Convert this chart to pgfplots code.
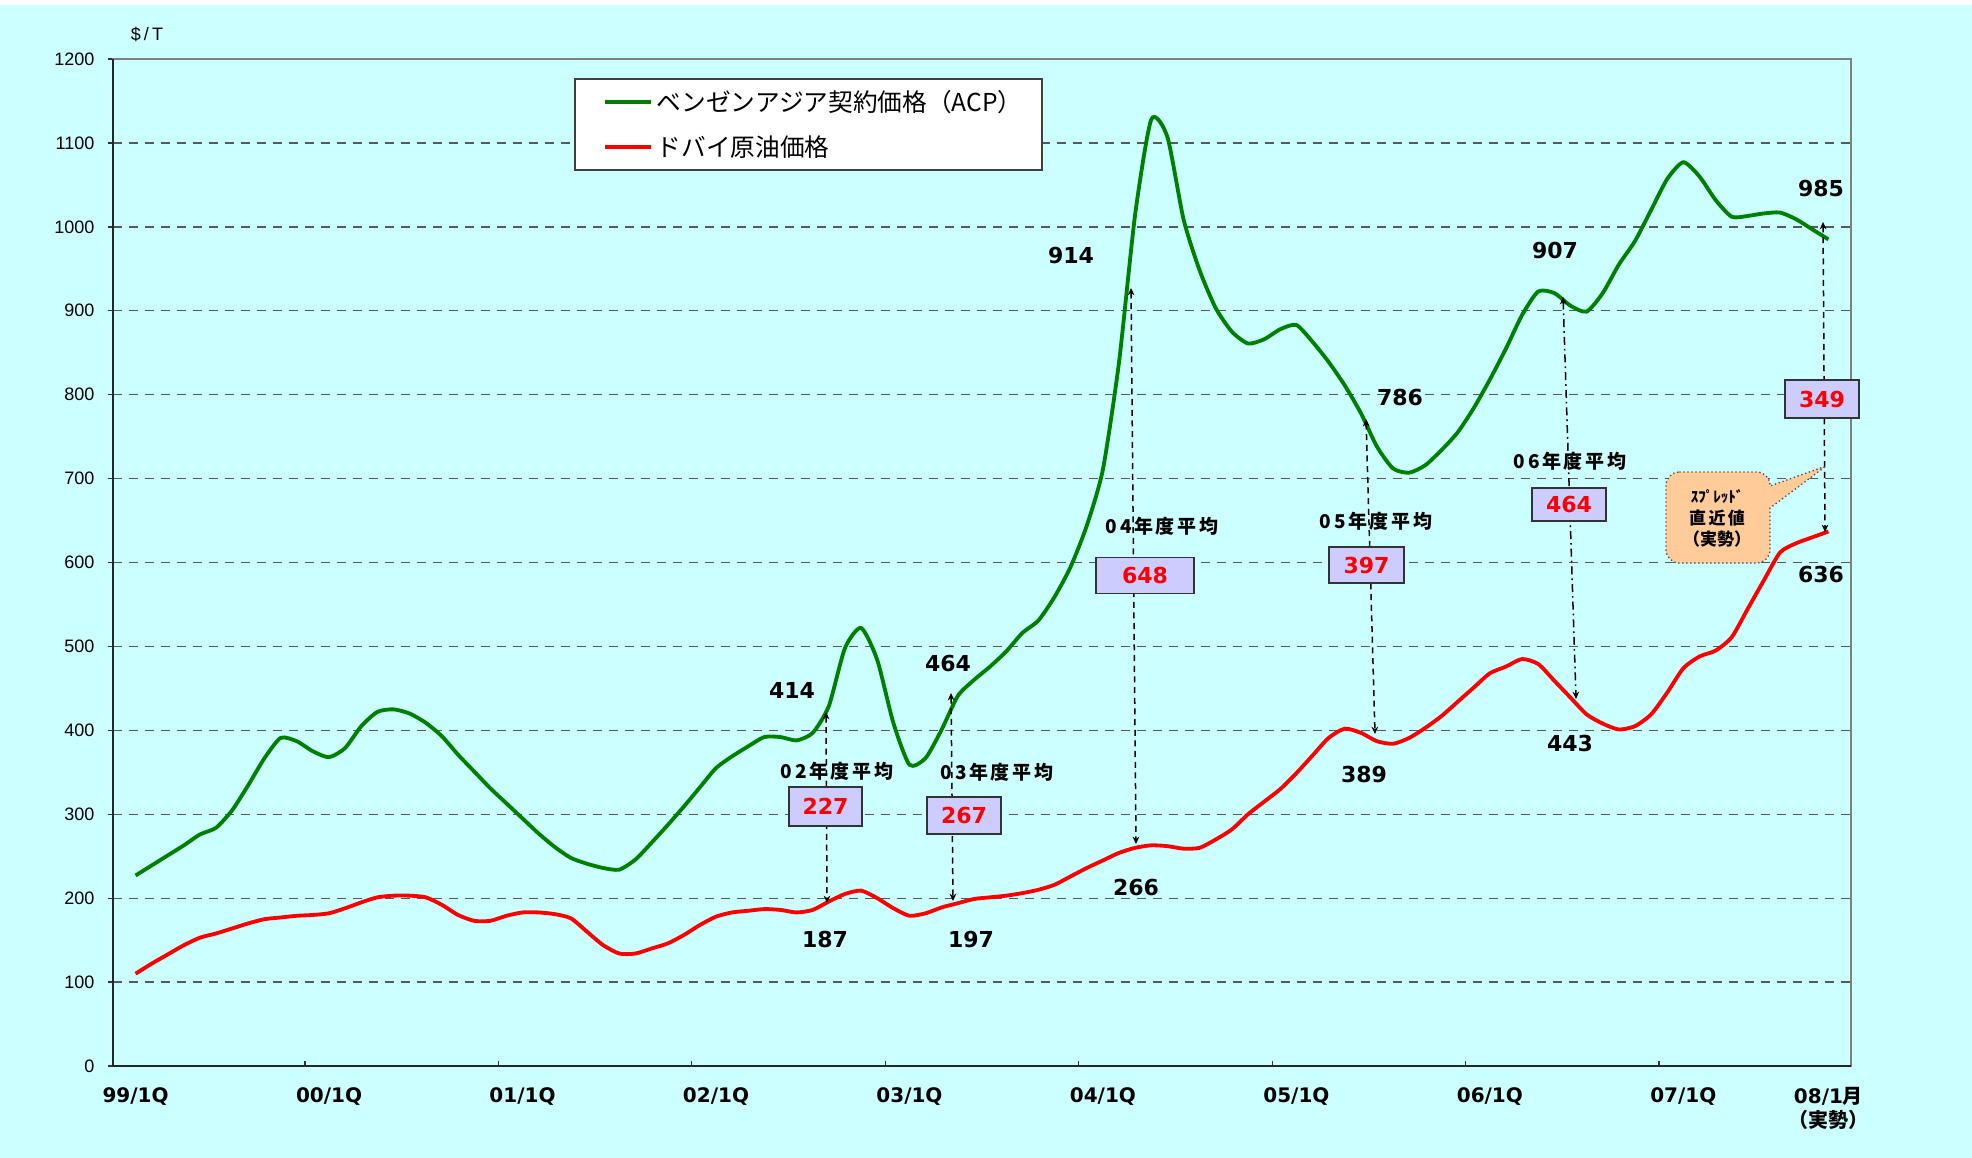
\documentclass[border=0pt]{standalone}
\usepackage{pgfplots}
\pgfplotsset{compat=1.18}
\usepackage{pgfplotstable}
\usetikzlibrary{arrows.meta}
\usepackage{fontspec}
\setmainfont{Liberation Sans}
\newfontfamily\dvb{DejaVu Sans}
\newfontfamily\cjk{Noto Sans CJK JP}
\newfontfamily\cjksp{Noto Sans CJK JP}[LetterSpace=14]
\definecolor{bg}{HTML}{CCFFFF}
\definecolor{boxfill}{HTML}{CCCCFF}
\definecolor{callout}{HTML}{FFCC99}
\definecolor{acp}{HTML}{008000}
\definecolor{dub}{HTML}{FF0000}
\newcommand{\numfont}{\fontsize{6.6}{7}\selectfont\dvb\bfseries}
\newcommand{\avgfont}{\fontsize{5.7}{6}\selectfont\cjksp\bfseries}

\pgfplotstableread{
m acp dubai
0 227 110
1 239 122
2 251 133
3 263 144
4 276 153
5 284 158
6 305 164
7 335 170
8 367 175
9 391 177
10 387 179
11 375 180
12 368 182
13 379 188
14 405 195
15 422 201
16 425 203
17 420 203
18 409 201
19 393 192
20 371 180
21 351 173
22 331 173
23 313 179
24 295 183
25 277 183
26 261 181
27 248 176
28 241 160
29 236 144
30 234 134
31 246 134
32 266 140
33 287 146
34 309 156
35 332 168
36 355 178
37 369 183
38 381 185
39 392 187
40 392 186
41 388 183
42 397 186
43 429 196
44 498 205
45 522 209
46 484 200
47 409 188
48 359 179
49 367 182
50 401 189
51 441 194
52 460 199
53 476 201
54 494 203
55 516 206
56 531 210
57 559 216
58 595 226
59 644 236
60 711 245
61 839 254
62 1015 260
63 1128 263
64 1107 262
65 1009 259
66 948 260
67 903 270
68 875 282
69 861 300
70 866 315
71 878 330
72 883 349
73 863 370
74 839 391
75 811 402
76 778 397
77 738 387
78 712 384
79 707 391
80 716 403
81 734 417
82 755 434
83 784 451
84 818 468
85 855 476
86 895 485
87 923 479
88 921 459
89 906 439
90 899 419
91 921 408
92 955 401
93 983 405
94 1020 419
95 1057 445
96 1077 474
97 1060 488
98 1032 495
99 1012 511
100 1013 545
101 1016 579
102 1017 612
103 1009 623
104 997 630
105 985 637
}\data

\begin{document}
\begin{tikzpicture}
\fill[white] (0,0) rectangle (591.6pt,-347.4pt);
\fill[bg] (0,-1.5pt) rectangle (591.6pt,-347.4pt);
\useasboundingbox (0,0) rectangle (591.6pt,-347.4pt);
\begin{axis}[
  at={(33.9pt,-319.8pt)}, anchor=south west,
  width=521.4pt, height=302.1pt, scale only axis,
  xmin=-1.4, xmax=106.4, ymin=0, ymax=1200,
  axis background/.style={fill=bg},
  axis line style={draw=black!50, line width=0.4pt},
  ytick={0,100,...,1200},
  /pgf/number format/assume math mode=true,
  /pgf/number format/1000 sep={},
  ymajorgrids,
  grid style={dash pattern=on 2.7pt off 2.1pt, draw=black!65, line width=0.4pt},
  tick align=outside,
  major tick length=1.5pt,
  tick style={draw=black!80, line width=0.4pt},
  xtick pos=bottom, ytick pos=left,
  xtick={10.5,22.5,...,94.5},
  xticklabels={},
  x tick style={yshift=1.5pt},
  yticklabel style={font=\fontsize{5.4}{6}\selectfont, inner sep=0pt, xshift=-3.9pt},
  extra x ticks={0,12,24,36,48,60,72,84,96,105},
  extra x tick labels={99/1Q,00/1Q,01/1Q,02/1Q,03/1Q,04/1Q,05/1Q,06/1Q,07/1Q,{08/1{\cjk\bfseries 月}\\{\cjk\bfseries （実勢）}}},
  extra x tick style={major tick length=0pt, tick label style={font=\fontsize{6}{7.2}\selectfont\dvb\bfseries, align=center, inner sep=0pt, anchor=north, yshift=-6.3pt}},
  clip=false,
]
\addplot[acp, line width=1.15pt, smooth, tension=0.4] table[x=m, y=acp]{\data};
\addplot[dub, line width=1.15pt, smooth, tension=0.4] table[x=m, y=dubai]{\data};
\draw[black!85, line width=0.6pt] (rel axis cs:0,1) -- (rel axis cs:0,0) -- (rel axis cs:1,0);
\end{axis}

\begin{scope}[x=0.3pt, y=-0.3pt]
% y unit label
\node[font=\fontsize{5.4}{6}\selectfont] at (147,34) {\$\,/\,T};
% legend
\draw[fill=white, draw=black!75, line width=0.4pt] (575,79) rectangle (1042,170);
\draw[acp, line width=1.2pt] (605,102) -- (651,102);
\draw[dub, line width=1.2pt] (605,147) -- (651,147);
\node[anchor=west, inner sep=0pt, font=\fontsize{7.4}{8}\selectfont\cjk] at (656,102) {ベンゼンアジア契約価格（ACP）};
\node[anchor=west, inner sep=0pt, font=\fontsize{7.4}{8}\selectfont\cjk] at (656,147) {ドバイ原油価格};

% arrows
\tikzset{arr/.style={line width=0.45pt, dash pattern=on 1.8pt off 1.4pt, {Stealth[length=2.2pt,width=2pt]}-{Stealth[length=2.2pt,width=2pt]}}}
\draw[arr] (826,712) -- (827,903);
\draw[arr] (951,693) -- (953,901);
\draw[arr] (1131,288) -- (1136,844);
\draw[arr] (1366,419) -- (1375,734);
\draw[arr, dash pattern=on 2.4pt off 1.2pt on 0.5pt off 1.2pt] (1563,297) -- (1576,699);
\draw[arr] (1823,222) -- (1825,532);

% year average labels
\node[font=\avgfont] at (837,771) {02年度平均};
\node[font=\avgfont] at (997,772) {03年度平均};
\node[font=\avgfont] at (1162,526) {04年度平均};
\node[font=\avgfont] at (1376,521) {05年度平均};
\node[font=\avgfont] at (1570,461) {06年度平均};

% boxes
\tikzset{sbox/.style={draw=black!80, fill=boxfill, line width=0.45pt, inner sep=0pt, text=dub, font=\numfont}}
\node[sbox, minimum width=21.9pt, minimum height=11.7pt] at (825.5,806.5) {227};
\node[sbox, minimum width=22.2pt, minimum height=11.1pt] at (964,815.5) {267};
\node[sbox, minimum width=29.4pt, minimum height=10.8pt] at (1145,575.5) {648};
\node[sbox, minimum width=22.5pt, minimum height=10.8pt] at (1366.5,565) {397};
\node[sbox, minimum width=22.2pt, minimum height=9.9pt] at (1569,504.5) {464};
\node[sbox, minimum width=22.2pt, minimum height=11.4pt] at (1822,399) {349};

% numbers
\node[font=\numfont] at (792,690) {414};
\node[font=\numfont] at (948,663) {464};
\node[font=\numfont] at (825,939) {187};
\node[font=\numfont] at (971,939) {197};
\node[font=\numfont] at (1071,256) {914};
\node[font=\numfont] at (1136,887) {266};
\node[font=\numfont] at (1400,397) {786};
\node[font=\numfont] at (1364,774) {389};
\node[font=\numfont] at (1555,250) {907};
\node[font=\numfont] at (1570,743) {443};
\node[font=\numfont] at (1821,188) {985};
\node[font=\numfont] at (1821,574) {636};

% callout
\filldraw[fill=callout, draw=black!70, line width=0.4pt, dash pattern=on 0.4pt off 0.8pt, rounded corners=4pt]
  (1666,472) -- (1770,472) [sharp corners] -- (1770,486) -- (1826,466) -- (1770,508) [rounded corners=4pt] -- (1770,563) -- (1666,563) -- cycle;
\node[font=\fontsize{4.5}{5}\selectfont\cjk\bfseries] at (1717,497) {ｽﾌﾟﾚｯﾄﾞ};
\node[font=\fontsize{5.1}{6}\selectfont\cjksp\bfseries] at (1717,518) {直近値};
\node[font=\fontsize{5.1}{6}\selectfont\cjk\bfseries] at (1717,539) {（実勢）};
\end{scope}
\end{tikzpicture}
\end{document}
